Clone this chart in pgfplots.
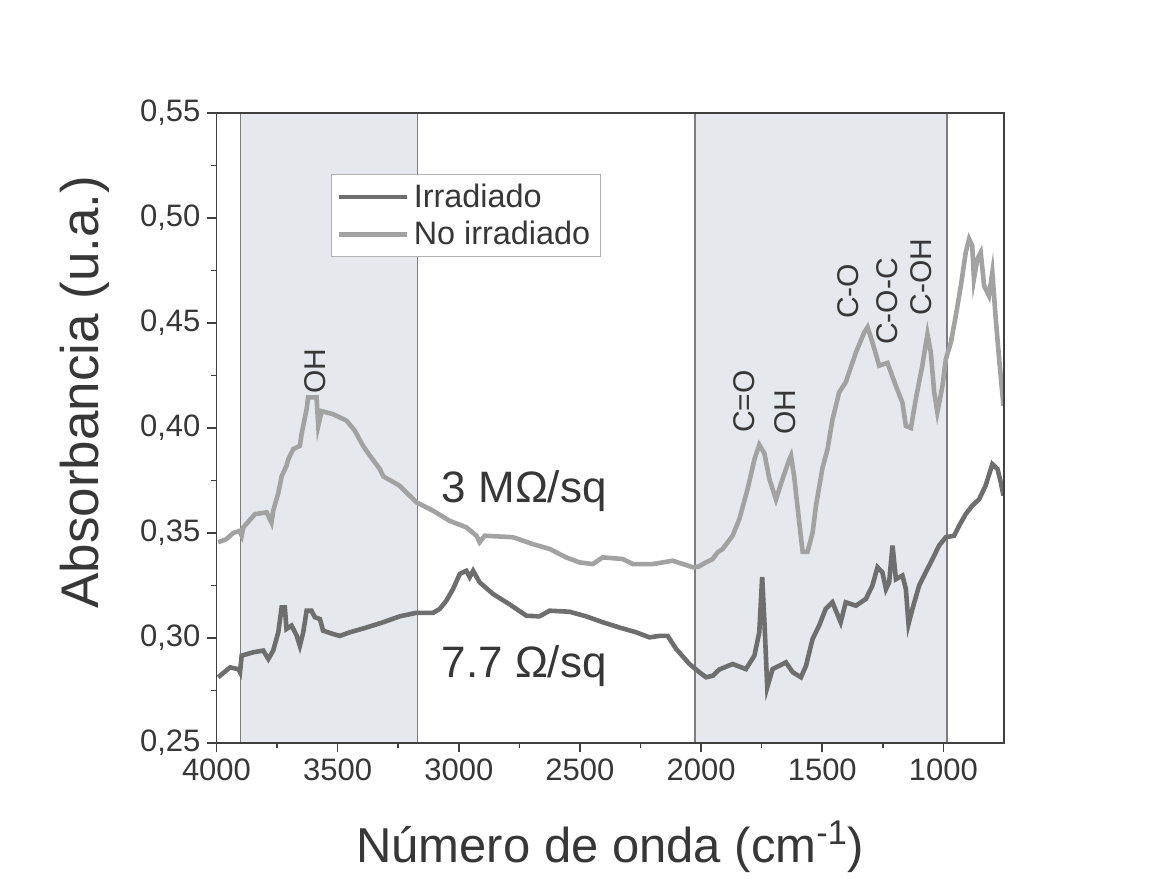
\documentclass[border=0pt]{standalone}
\usepackage{pgfplots}
\pgfplotsset{compat=1.18}
\usepackage{fontspec}
\setmainfont{Liberation Sans}
\definecolor{irr}{RGB}{110,110,110}
\definecolor{noirr}{RGB}{162,162,162}
\definecolor{shade}{RGB}{229,232,236}
\definecolor{edge}{RGB}{125,125,125}
\definecolor{txt}{RGB}{55,55,55}
\begin{document}
\begin{tikzpicture}
\begin{axis}[name=ax, scale only axis, width=393.75pt, height=315pt,
  x dir=reverse, xmin=750, xmax=4000, ymin=0.25, ymax=0.55,
  xtick={1000,1500,2000,2500,3000,3500,4000},
  ytick={0.25,0.3,0.35,0.4,0.45,0.5,0.55},
  minor x tick num=1, minor y tick num=1,
  tick pos=left, tick align=outside,
  major tick length=4.5pt, minor tick length=2.5pt,
  axis on top=true,
  axis line style={line width=0.9pt, black!75},
  every tick/.style={black!75, line width=0.8pt},
  /pgf/number format/assume math mode=true,
  tick label style={font=\fontsize{15.5}{18}\selectfont, text=txt},
  yticklabel style={/pgf/number format/.cd, fixed, fixed zerofill, precision=2, use comma},
  xticklabel style={/pgf/number format/1000 sep={}},
  xlabel={Número de onda (cm\textsuperscript{-1})},
  ylabel={Absorbancia (u.a.)},
  xlabel style={font=\fontsize{24.5}{29}\selectfont, text=txt, at={(axis description cs:0.5,-0.165)}, anchor=center},
  ylabel style={font=\fontsize{26.5}{31}\selectfont, text=txt, at={(axis description cs:-0.167,0.557)}, anchor=center},
  legend style={at={(axis description cs:0.145,0.903)}, anchor=north west,
    draw=black!30, line width=0.5pt, fill=white,
    font=\fontsize{16.2}{19}\selectfont, text=txt,
    inner xsep=3pt, inner ysep=2.5pt, row sep=1.5pt},
  legend cell align=left,
  legend image code/.code={\draw[#1, line width=2.3pt] (0pt,0pt) -- (34pt,0pt);},
]
\addplot[fill=shade, draw=edge, line width=0.75pt, forget plot]
  coordinates {(3900,0.25) (3900,0.55) (3170,0.55) (3170,0.25)} -- cycle;
\addplot[fill=shade, draw=edge, line width=0.75pt, forget plot]
  coordinates {(2025,0.25) (2025,0.55) (985,0.55) (985,0.25)} -- cycle;

\addplot[irr, line width=2.3pt, sharp plot] coordinates {
(3993,0.2813) (3944,0.286) (3910,0.2852) (3903,0.2837) (3896,0.2916) (3848,0.2932)
(3807,0.294) (3786,0.290) (3766,0.294) (3745,0.3027) (3731,0.3146) (3718,0.3146)
(3711,0.3043) (3690,0.3059) (3669,0.3011) (3656,0.2963) (3642,0.3027) (3628,0.313)
(3608,0.313) (3594,0.3099) (3573,0.309) (3560,0.3035) (3519,0.3019) (3491,0.301)
(3450,0.3027) (3381,0.305) (3312,0.3075) (3244,0.3103) (3175,0.312) (3106,0.312)
(3079,0.3138) (3051,0.3178) (3024,0.3233) (2996,0.3305) (2969,0.332) (2955,0.329)
(2941,0.332) (2914,0.3265) (2859,0.321) (2790,0.316) (2721,0.3106) (2667,0.3103)
(2625,0.313) (2543,0.3125) (2474,0.3103) (2406,0.3075) (2337,0.305) (2268,0.3027)
(2213,0.3003) (2172,0.301) (2138,0.301) (2103,0.2948) (2048,0.2876) (2007,0.2837)
(1980,0.2813) (1952,0.282) (1925,0.285) (1870,0.2876) (1815,0.2852) (1780,0.2916)
(1760,0.3027) (1748,0.329) (1738,0.3059) (1727,0.2765) (1705,0.2852) (1677,0.2868)
(1650,0.2884) (1622,0.2837) (1588,0.2813) (1567,0.2868) (1540,0.2995) (1513,0.3059)
(1486,0.3138) (1458,0.317) (1424,0.3075) (1403,0.317) (1361,0.3154) (1320,0.3186)
(1293,0.325) (1272,0.3337) (1252,0.3313) (1237,0.3233) (1224,0.3265) (1210,0.344)
(1196,0.328) (1169,0.3297) (1155,0.3233) (1144,0.3067) (1128,0.3138) (1100,0.325)
(1073,0.3313) (1045,0.3376) (1018,0.344) (990,0.348) (956,0.3487) (935,0.3535)
(908,0.359) (881,0.363) (853,0.366) (826,0.3725) (798,0.3828) (777,0.3805)
(763,0.374) (752,0.3678)
};
\addlegendentry{Irradiado}

\addplot[noirr, line width=2.3pt, sharp plot] coordinates {
(3993,0.3456) (3960,0.347) (3931,0.350) (3905,0.351) (3896,0.3487) (3889,0.3527)
(3841,0.359) (3793,0.3598) (3773,0.355) (3766,0.3606) (3745,0.369) (3731,0.377)
(3711,0.382) (3704,0.385) (3683,0.390) (3656,0.3915) (3649,0.397) (3628,0.409)
(3622,0.4146) (3587,0.4146) (3580,0.401) (3566,0.408) (3519,0.4066) (3463,0.4035)
(3429,0.3987) (3395,0.3915) (3367,0.3868) (3326,0.3805) (3312,0.377) (3244,0.3725)
(3175,0.3646) (3106,0.3606) (3038,0.3558) (2969,0.3527) (2927,0.3487) (2914,0.3456)
(2893,0.3487) (2777,0.348) (2694,0.3447) (2625,0.3424) (2557,0.3384) (2502,0.336)
(2447,0.3352) (2406,0.3384) (2323,0.3376) (2282,0.3352) (2200,0.3352) (2117,0.3368)
(2035,0.3337) (2010,0.334) (1980,0.336) (1952,0.3376) (1932,0.3408) (1911,0.3424)
(1870,0.3487) (1842,0.3567) (1808,0.371) (1780,0.385) (1760,0.392) (1739,0.388)
(1718,0.3757) (1691,0.366) (1664,0.3757) (1636,0.385) (1629,0.3868) (1616,0.377)
(1595,0.355) (1581,0.341) (1561,0.341) (1540,0.350) (1526,0.363) (1499,0.381)
(1478,0.390) (1458,0.404) (1430,0.417) (1403,0.4218) (1361,0.436) (1327,0.4455)
(1313,0.448) (1293,0.4408) (1265,0.4297) (1231,0.431) (1196,0.420) (1169,0.412)
(1155,0.401) (1134,0.400) (1114,0.4138) (1087,0.4297) (1066,0.4447) (1052,0.436)
(1038,0.417) (1025,0.4075) (1004,0.420) (990,0.4328) (969,0.4408) (949,0.4534)
(928,0.4677) (908,0.4836) (894,0.490) (881,0.4868) (874,0.471) (860,0.4804)
(846,0.4836) (832,0.4677) (812,0.463) (798,0.474) (784,0.452) (770,0.4328)
(752,0.4106)
};
\addlegendentry{No irradiado}

\node[anchor=base, font=\fontsize{22}{26}\selectfont, text=txt] at (axis cs:2730,0.3647) {3 MΩ/sq};
\node[anchor=base, font=\fontsize{22}{26}\selectfont, text=txt] at (axis cs:2730,0.2814) {7.7 Ω/sq};
\node[rotate=90, font=\fontsize{15}{17}\selectfont, text=txt] at (axis cs:3594,0.427) {OH};
\node[rotate=90, font=\fontsize{15}{17}\selectfont, text=txt] at (axis cs:1822,0.4126) {C=O};
\node[rotate=90, font=\fontsize{15}{17}\selectfont, text=txt] at (axis cs:1652,0.4076) {OH};
\node[rotate=90, font=\fontsize{15}{17}\selectfont, text=txt] at (axis cs:1393,0.465) {C-O};
\node[rotate=90, font=\fontsize{15}{17}\selectfont, text=txt] at (axis cs:1234,0.4602) {C-O-C};
\node[rotate=90, font=\fontsize{15}{17}\selectfont, text=txt] at (axis cs:1090,0.472) {C-OH};
\end{axis}
\pgfresetboundingbox
\path ([xshift=-108.25pt,yshift=-75.5pt]ax.south west) rectangle ([xshift=81.5pt,yshift=56.5pt]ax.north east);
\end{tikzpicture}
\end{document}
